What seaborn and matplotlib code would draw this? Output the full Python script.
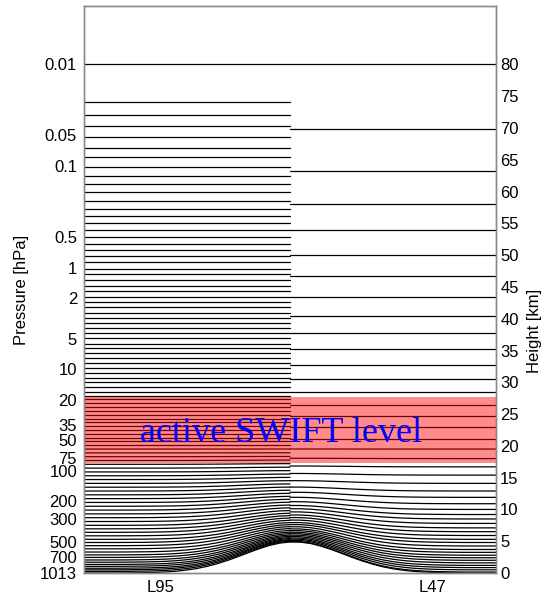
import numpy as np
import pandas as pd
import matplotlib
matplotlib.use("Agg")
import matplotlib.pyplot as plt
import seaborn as sns

# Level interface heights (km) over flat ground, top to bottom
l95_levels = [80.0, 74.1, 72.0, 70.3, 68.6, 66.9, 65.4, 63.9, 62.5, 61.2,
              59.9, 58.6, 57.3, 56.2, 55.0, 53.9, 52.9, 51.8, 50.8, 49.8,
              48.9, 47.9, 47.0, 46.1, 45.2, 44.3, 43.4, 42.6, 41.8, 40.9,
              40.1, 39.3, 38.5, 37.7, 36.9, 36.1, 35.4, 34.6, 33.8, 33.0,
              32.2, 31.5, 30.7, 30.0, 29.3, 28.5,
              27.9, 27.3, 26.7, 26.1, 25.5, 24.9, 24.3, 23.7, 23.1, 22.5,
              21.9, 21.3, 20.7, 20.1, 19.5, 18.9, 18.3, 17.7, 17.1,
              16.5, 15.9, 15.3, 14.7, 14.1, 13.5, 12.9, 12.3, 11.7, 11.1,
              10.5, 9.9, 9.3, 8.7, 8.1, 7.5, 6.95, 6.4, 5.85, 5.3,
              4.8, 4.3, 3.8, 3.3, 2.85, 2.45, 2.05, 1.7, 1.35, 1.05,
              0.75, 0.5, 0.25, 0.0]
l47_levels = [80.0, 69.9, 63.2, 58.1, 53.9, 50.1, 46.7, 43.4, 40.4, 37.8,
              35.2, 32.7, 30.5, 28.4, 26.4, 24.7, 22.9, 21.1, 19.5, 18.0,
              16.7, 15.4, 14.1, 12.9, 11.9, 10.9, 10.0, 9.2, 8.5, 7.8,
              7.1, 6.5, 5.9, 5.3, 4.8, 4.25, 3.7, 3.25, 2.8, 2.4,
              2.0, 1.6, 1.2, 0.85, 0.5, 0.15, 0.0]

# Mountain profile (km) along the section
topo_x = np.round(np.arange(0, 2.001, 0.05), 2)
topo_h = [0, 0, 0, 0, 0.01, 0.03, 0.05, 0.10, 0.17, 0.29,
          0.47, 0.72, 1.06, 1.49, 2.01, 2.60, 3.22, 3.81, 4.33, 4.70,
          4.88, 4.86, 4.64, 4.23, 3.70, 3.10, 2.48, 1.90, 1.40, 0.98,
          0.66, 0.43, 0.26, 0.16, 0.09, 0.05, 0.02, 0, 0, 0, 0]

pressure_ticks = [0.01, 0.05, 0.1, 0.5, 1, 2, 5, 10, 20, 35, 50, 75,
                  100, 200, 300, 500, 700, 1013]
pressure_labels = ["0.01", "0.05", "0.1", "0.5", "1", "2", "5", "10", "20",
                   "35", "50", "75", "100", "200", "300", "500", "700", "1013"]
height_ticks = list(range(0, 81, 5))
grid_names = ["L95", "L47"]

swift_band = (17.3, 27.75)
scale_height = 80.0 / np.log(1013 / 0.01)   # km, log-pressure height


def terrain_weight(z, z_flat=20.0):
    """Hybrid coordinate: terrain influence decays with height."""
    return np.clip(1.0 - z / z_flat, 0.0, 1.0) ** 2


rows = []
topo_x_arr = np.asarray(topo_x)
topo_h_arr = np.asarray(topo_h)
for name, levels, sel in [("L95", l95_levels, topo_x_arr <= 1.0),
                          ("L47", l47_levels, topo_x_arr >= 1.0)]:
    for k, z0 in enumerate(levels):
        zs = z0 + topo_h_arr[sel] * terrain_weight(z0)
        for xv, zv in zip(topo_x_arr[sel], zs):
            rows.append({"grid": name, "line": f"{name}_{k}", "x": xv, "z": zv})
df = pd.DataFrame(rows)

sns.set_theme(style="white")
plt.rcParams["font.family"] = ["Liberation Sans", "DejaVu Sans"]
plt.rcParams["text.color"] = "black"
plt.rcParams["xtick.color"] = "black"
plt.rcParams["ytick.color"] = "black"
plt.rcParams["axes.labelcolor"] = "black"

fig = plt.figure(figsize=(5.42, 6.01), dpi=100)
ax = fig.add_axes([84 / 542, 1 - 573 / 601, 412 / 542, 567 / 601])

sns.lineplot(data=df, x="x", y="z", units="line", estimator=None, sort=False,
             color="black", linewidth=0.9, legend=False, ax=ax)

ax.axhspan(*swift_band, color="red", alpha=0.45, lw=0, zorder=3)
ax.text(0.956, 20.57, "active SWIFT level", color="blue",
        family=["Liberation Serif", "DejaVu Serif"], fontsize=26,
        ha="center", va="baseline", zorder=4)

ax.set_xlim(0, 2)
ax.set_ylim(0, 89.2)
ax.set_xticks([0.37, 1.69])
ax.set_xticklabels(grid_names, fontsize=12)
ax.set_yticks(scale_height * np.log(1013 / np.asarray(pressure_ticks)))
ax.set_yticklabels(pressure_labels, fontsize=12)
ax.tick_params(axis="both", length=0, pad=5, colors="black")
ax.set_xlabel("")
ax.set_ylabel("")

ax2 = ax.twinx()
ax2.set_ylim(0, 89.2)
ax2.set_yticks(height_ticks)
ax2.set_yticklabels([str(h) for h in height_ticks], fontsize=12)
ax2.tick_params(axis="y", length=0, pad=3, colors="black")
ax2.grid(False)
ax.grid(False)

for a in (ax, ax2):
    for sp in a.spines.values():
        sp.set_color("#8a8a8a")
        sp.set_linewidth(1.0)

fig.text(22 / 542, 1 - 290 / 601, "Pressure [hPa]", rotation=90,
         ha="center", va="center", fontsize=12, color="black")
fig.text(535 / 542, 1 - 331 / 601, "Height [km]", rotation=90,
         ha="center", va="center", fontsize=12, color="black")

fig.savefig("out.png", dpi=100)
